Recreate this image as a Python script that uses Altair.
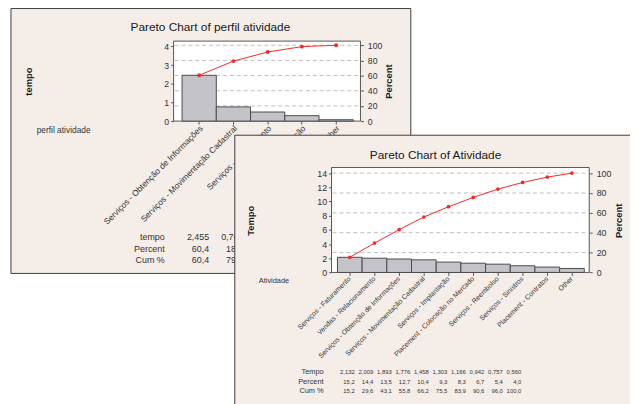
import altair as alt
import pandas as pd

# ------------------------------------------------------------------ data
cats1 = ["Serviços - Obtenção de Informações", "Serviços - Movimentação Cadastral",
         "Serviços - Faturamento", "Serviços - Implantação", "Other"]
tempo1 = [2.455, 0.762, 0.486, 0.290, 0.072]
pct1 = [60.4, 18.7, 12.0, 7.1, 1.8]
cum1 = [60.4, 79.1, 91.1, 98.2, 100.0]

cats2 = ["Serviços - Faturamento", "Vendas - Relacionamento",
         "Serviços - Obtenção de Informações", "Serviços - Movimentação Cadastral",
         "Serviços - Implantação", "Placement - Colocação no Mercado",
         "Serviços - Reembolso", "Serviços - Sinistros", "Placement - Contratos", "Other"]
tempo2 = [2.132, 2.009, 1.893, 1.776, 1.458, 1.303, 1.166, 0.942, 0.757, 0.560]
pct2 = [15.2, 14.4, 13.5, 12.7, 10.4, 9.3, 8.3, 6.7, 5.4, 4.0]
cum2 = [15.2, 29.6, 43.1, 55.8, 66.2, 75.5, 83.9, 90.6, 96.0, 100.0]

yticks1 = [0, 1, 2, 3, 4]
yticks2 = [0, 2, 4, 6, 8, 10, 12, 14]
pticks = [0, 20, 40, 60, 80, 100]
grid_pct = [20, 40, 60, 80, 100]
row_names1 = ["tempo", "Percent", "Cum %"]
row_names2 = ["Tempo", "Percent", "Cum %"]

# ------------------------------------------------------------------ style / layout
FONT = "Liberation Sans"
W, H = 630, 396
M = 8


def p(v):
    return v - M


BG = "#f4ede8"
EDGE = "#3c3c3c"
BAR_FILL = "#c4c3c9"
BAR_EDGE = "#4a4a4a"
RED = "#f22a2a"
GRID = "#bdbdbd"
TXT = "#333333"

one = pd.DataFrame({"k": [0]})


def box(x0, y0, x1, y1, fill, stroke, sw=1.0):
    return alt.Chart(one).mark_rect(fill=fill, stroke=stroke, strokeWidth=sw).encode(
        x=alt.value(p(x0)), x2=alt.value(p(x1)), y=alt.value(p(y0)), y2=alt.value(p(y1)))


def label(x, y, s, size, weight="normal", angle=0, align="center", color="#1e1e1e"):
    return alt.Chart(one).mark_text(
        text=s, font=FONT, fontSize=size, fontWeight=weight, angle=angle,
        align=align, baseline="middle", color=color
    ).encode(x=alt.value(p(x)), y=alt.value(p(y)))


def fmt(v, d):
    return f"{v:.{d}f}".replace(".", ",")


def pareto(cats, tempo, pct, cum, yticks, g):
    total = sum(tempo)
    df = pd.DataFrame({"cat": cats, "tempo": tempo, "pct": pct, "cum": cum})
    xs = alt.Scale(domain=cats, range=[p(g["bx0"]), p(g["bx1"])], paddingInner=0, paddingOuter=0)
    ys = alt.Scale(domain=[0, total], range=[p(g["y0"]), p(g["y100"])], nice=False, zero=False)
    ps = alt.Scale(domain=[0, 100], range=[p(g["y0"]), p(g["y100"])], nice=False, zero=False)
    common = dict(title=None, domain=False, grid=False, tickSize=3, tickColor="#555555",
                  labelFont=FONT, labelColor=TXT, labelOverlap=False, zindex=1)
    left_axis = alt.Axis(orient="left", offset=-p(g["px0"]), values=yticks, format="d",
                         labelFontSize=g["tfs"], labelPadding=2, **common)
    right_axis = alt.Axis(orient="right", offset=p(g["px1"]) - W, values=pticks, format="d",
                          labelFontSize=g["tfs"], labelPadding=4, **common)
    if g["axis_labels"]:
        bottom_axis = alt.Axis(orient="bottom", offset=p(g["y0"]) - H, labelAngle=315,
                               labelAlign="right", labelBaseline="middle",
                               labelFontSize=g["xfs"], labelPadding=2, labelLimit=400, **common)
    else:
        bottom_axis = alt.Axis(orient="bottom", offset=p(g["y0"]) - H, labels=False, **common)

    layers = []
    # plot area
    layers.append(box(g["px0"], g["py0"], g["px1"], g["y0"], "white", "#555555", 1))
    # dashed percent grid
    gdf = pd.DataFrame({"g": grid_pct})
    layers.append(alt.Chart(gdf).mark_rule(color=GRID, strokeDash=[4, 3], strokeWidth=1).encode(
        y=alt.Y("g:Q", scale=ps, axis=None),
        x=alt.value(p(g["px0"]) + 1), x2=alt.value(p(g["px1"]) - 1)))
    # bars
    layers.append(alt.Chart(df).mark_bar(fill=BAR_FILL, stroke=BAR_EDGE, strokeWidth=1).encode(
        x=alt.X("cat:N", scale=xs, axis=bottom_axis, sort=None),
        y=alt.Y("tempo:Q", scale=ys, axis=left_axis)))
    # cumulative line + points
    layers.append(alt.Chart(df).mark_line(color=RED, strokeWidth=1).encode(
        x=alt.X("cat:N", scale=xs, axis=None, sort=None),
        y=alt.Y("cum:Q", scale=ps, axis=None)))
    layers.append(alt.Chart(df).mark_circle(color=RED, size=g["ms"], opacity=1).encode(
        x=alt.X("cat:N", scale=xs, axis=None, sort=None),
        y=alt.Y("cum:Q", scale=ps, axis=right_axis)))
    # category labels drawn as text (chart 1 only, so the front window can hide them)
    if not g["axis_labels"]:
        layers.append(alt.Chart(df).mark_text(
            angle=315, align="right", baseline="middle", dx=3, font=FONT,
            fontSize=g["xfs"], color=TXT).encode(
            x=alt.X("cat:N", scale=xs, axis=None, sort=None),
            y=alt.value(p(g["lab_y"])), text="cat:N"))
    # titles
    layers.append(label(g["title_x"], g["title_y"], g["title"], 12, color="#1a1a1a"))
    layers.append(label(g["yt_x"], g["at_y"], g["ytitle"], 9.5, "bold", 270))
    layers.append(label(g["pt_x"], g["at_y"], "Percent", 9.5, "bold", 270))
    layers.append(label(g["cat_x"], g["cat_y"], g["cattitle"], g["catfs"], align="left", color=TXT))
    # table under the chart (only the columns not covered by the front window)
    tx = alt.Scale(type="point", domain=cats, range=[p(g["col0"]), p(g["col1"])], padding=0)
    rows = [[fmt(v, 3) for v in tempo], [fmt(v, 1) for v in pct], [fmt(v, 1) for v in cum]]
    ncols = g["ncols"]
    for name, vals, ry in zip(g["rows"], rows, g["row_y"]):
        layers.append(label(g["rowlab_x"], ry, name, g["rowfs"], align="right", color=TXT))
        tdf = pd.DataFrame({"cat": cats[:ncols], "t": vals[:ncols]})
        layers.append(alt.Chart(tdf).mark_text(
            align="right", baseline="middle", font=FONT, fontSize=g["valfs"],
            color=TXT).encode(
            x=alt.X("cat:N", scale=tx, axis=None, sort=None),
            y=alt.value(p(ry)), text="t:N"))
    return layers


g1 = dict(bx0=184.3, bx1=357.7, px0=175.7, px1=365, py0=39, y0=120, y100=43.2,
          tfs=8.8, xfs=8.5, ms=16, axis_labels=False, lab_y=128,
          title="Pareto Chart of perfil atividade", title_x=213, title_y=25,
          ytitle="tempo", yt_x=29.5, pt_x=394, at_y=80,
          cattitle="perfil atividade", cat_x=37, cat_y=129, catfs=8.5,
          col0=211.7, col1=350.5, rows=row_names1, row_y=[237.7, 249.3, 260.3],
          rowlab_x=166.7, rowfs=9, valfs=9, ncols=2)

g2 = dict(bx0=341.7, bx1=591.7, px0=335.7, px1=596.7, py0=167, y0=273.3, y100=172.7,
          tfs=9, xfs=7, ms=14, axis_labels=True, lab_y=0,
          title="Pareto Chart of Atividade", title_x=441, title_y=154,
          ytitle="Tempo", yt_x=254, pt_x=627, at_y=221,
          cattitle="Atividade", cat_x=262, cat_y=282, catfs=7.5,
          col0=359.3, col1=528, rows=row_names2, row_y=[374.3, 384, 393.3],
          rowlab_x=327.7, rowfs=7.5, valfs=6, ncols=10)

layers = []
layers.append(box(11, 6, 416, 274.3, BG, EDGE, 1))
layers += pareto(cats1, tempo1, pct1, cum1, yticks1, g1)
layers.append(box(237.7, 134.3, 660, 420, BG, EDGE, 1))
layers += pareto(cats2, tempo2, pct2, cum2, yticks2, g2)

chart = alt.layer(*layers).resolve_scale(x="independent", y="independent").properties(
    width=W, height=H, autosize=alt.AutoSizeParams(type="none"), padding=0, background="white"
).configure_view(stroke=None)

chart.save("out.html", embed_options={"renderer": "svg", "actions": False})
